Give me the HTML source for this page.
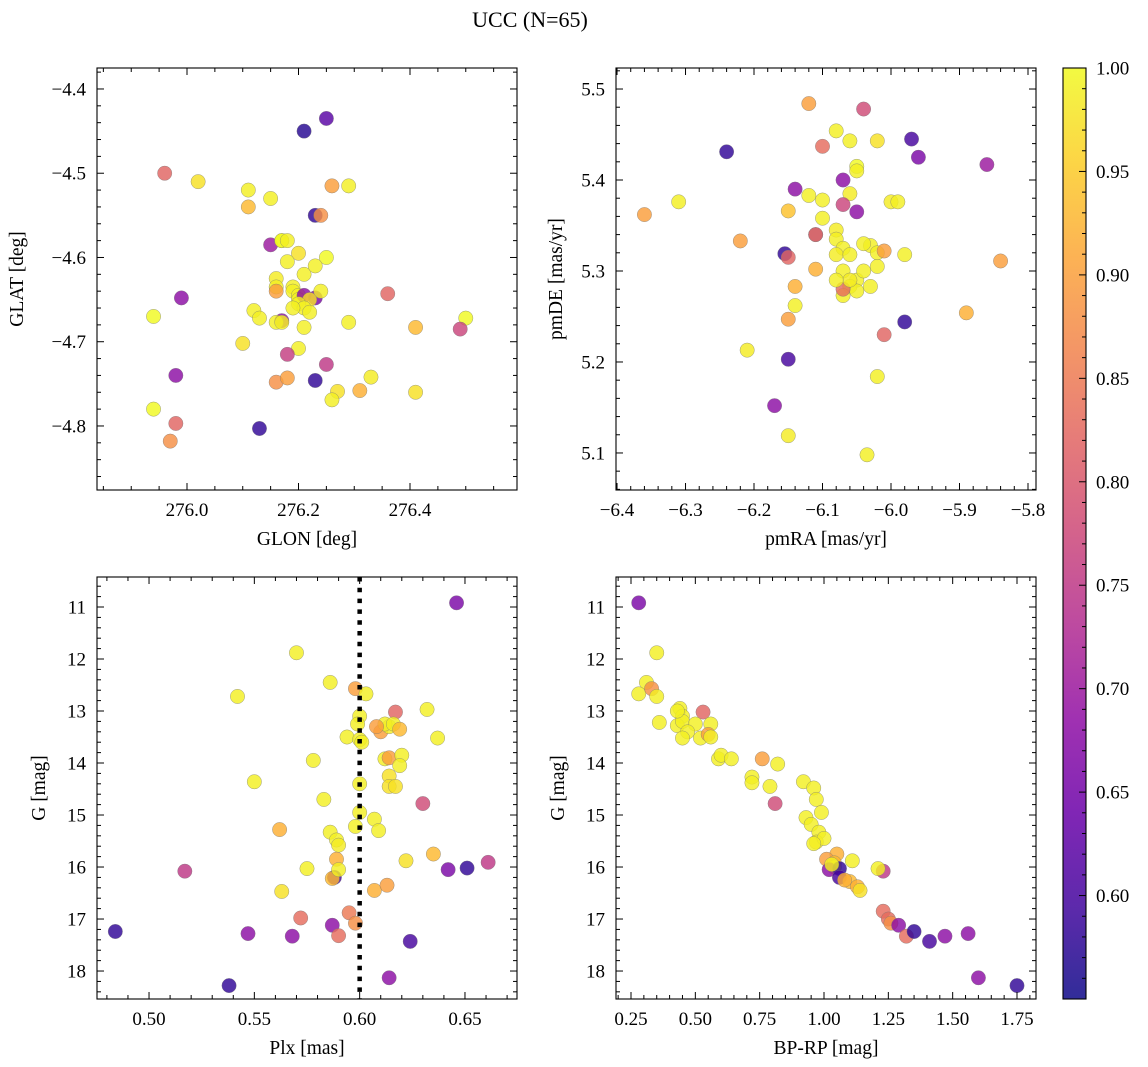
<!DOCTYPE html>
<html><head><meta charset="utf-8"><title>UCC (N=65)</title>
<style>
html,body{margin:0;padding:0;background:#fff;}
svg{display:block;font-family:"Liberation Serif","DejaVu Serif",serif;}
</style></head>
<body>
<svg id="fig" width="1148" height="1067" viewBox="0 0 1148 1067" xmlns="http://www.w3.org/2000/svg">
<defs>
<linearGradient id="plasma" x1="0" y1="1" x2="0" y2="0">
<stop offset="0" stop-color="#0d0887"/><stop offset="0.1" stop-color="#41049d"/><stop offset="0.2" stop-color="#6a00a8"/><stop offset="0.3" stop-color="#8f0da4"/><stop offset="0.4" stop-color="#b12a90"/><stop offset="0.5" stop-color="#cc4778"/><stop offset="0.6" stop-color="#e16462"/><stop offset="0.7" stop-color="#f2844b"/><stop offset="0.8" stop-color="#fca636"/><stop offset="0.9" stop-color="#fcce25"/><stop offset="1" stop-color="#f0f921"/>
</linearGradient>
</defs>
<text x="530" y="27" font-size="22" text-anchor="middle">UCC (N=65)</text>
</svg>
<script>
// ---- data: panel 1 (GLON / GLAT) ----
const p1Lon=[276.21,276.25,275.96,276.02,276.11,276.11,276.15,276.26,276.29,276.23,276.24,276.15,276.17,276.17,276.20,276.18,276.25,276.21,276.23,276.16,276.16,276.16,276.19,276.19,276.20,276.20,276.21,276.23,276.22,276.24,275.99,276.36,275.94,276.50,276.12,276.13,276.17,276.16,276.17,276.21,276.29,276.41,276.49,276.10,276.20,276.18,276.25,275.98,276.16,276.18,276.23,276.31,276.27,276.33,276.26,276.41,275.94,275.98,275.97,276.13,276.20,276.21,276.22,276.19,276.18];
const p1Lat=[-4.45,-4.435,-4.50,-4.51,-4.52,-4.54,-4.53,-4.515,-4.515,-4.55,-4.55,-4.585,-4.58,-4.58,-4.595,-4.605,-4.60,-4.62,-4.61,-4.625,-4.635,-4.64,-4.635,-4.64,-4.645,-4.65,-4.645,-4.648,-4.65,-4.64,-4.648,-4.643,-4.67,-4.672,-4.663,-4.672,-4.675,-4.677,-4.677,-4.683,-4.677,-4.683,-4.685,-4.702,-4.708,-4.715,-4.727,-4.74,-4.748,-4.743,-4.746,-4.758,-4.759,-4.742,-4.769,-4.76,-4.78,-4.797,-4.818,-4.803,-4.655,-4.66,-4.665,-4.66,-4.58];
const p1Prob=[0.57,0.62,0.82,0.975,0.99,0.93,0.99,0.9,0.99,0.58,0.88,0.7,1.0,1.0,0.975,0.99,1.0,0.99,0.99,0.985,0.99,0.9,0.99,0.99,0.99,0.99,0.68,0.66,0.975,0.99,0.68,0.82,1.0,1.0,0.99,0.99,0.68,0.99,0.99,0.99,0.99,0.93,0.77,0.975,0.99,0.76,0.75,0.68,0.88,0.9,0.58,0.92,0.975,0.985,0.99,0.975,1.0,0.82,0.88,0.58,0.99,0.99,0.99,0.99,0.99];
// ---- data: panel 2 (pmRA / pmDE) ----
const p2PmRA=[-6.12,-6.04,-6.08,-6.06,-6.02,-5.97,-5.96,-5.86,-6.24,-6.10,-6.05,-6.05,-6.07,-6.14,-6.12,-6.10,-6.06,-6.00,-5.99,-6.31,-6.36,-6.15,-6.07,-6.05,-6.10,-6.11,-6.11,-6.08,-6.08,-6.07,-6.03,-6.02,-6.04,-6.01,-5.98,-6.22,-6.155,-6.15,-6.08,-6.06,-6.02,-5.84,-6.11,-6.07,-6.14,-6.05,-6.03,-6.06,-6.05,-6.07,-6.07,-6.14,-6.15,-5.98,-5.89,-6.01,-6.21,-6.15,-6.02,-6.17,-6.15,-6.035,-6.06,-6.04,-6.08];
const p2PmDE=[5.484,5.478,5.454,5.443,5.443,5.445,5.425,5.417,5.431,5.437,5.415,5.41,5.40,5.39,5.383,5.378,5.385,5.376,5.376,5.376,5.362,5.366,5.373,5.365,5.358,5.34,5.34,5.345,5.335,5.325,5.328,5.32,5.33,5.322,5.318,5.333,5.319,5.315,5.318,5.318,5.305,5.311,5.302,5.30,5.283,5.29,5.283,5.283,5.278,5.273,5.28,5.262,5.247,5.244,5.254,5.23,5.213,5.203,5.184,5.152,5.119,5.098,5.29,5.30,5.29];
const p2Prob=[0.9,0.78,0.99,0.99,0.975,0.6,0.66,0.7,0.58,0.83,1.0,0.99,0.68,0.68,0.99,0.99,0.985,0.985,0.99,0.99,0.9,0.94,0.77,0.68,0.99,0.99,0.78,0.985,0.99,0.99,0.99,0.99,0.99,0.9,0.99,0.9,0.58,0.82,0.985,0.99,0.99,0.9,0.92,0.99,0.92,0.99,0.99,0.99,0.99,0.99,0.83,0.99,0.9,0.58,0.92,0.82,0.985,0.6,0.99,0.68,0.985,0.99,0.985,0.99,0.99];
// ---- data: panel 3 (Plx / G) ----
const p3Plx=[0.646,0.570,0.542,0.586,0.598,0.603,0.600,0.599,0.617,0.632,0.610,0.614,0.612,0.616,0.619,0.594,0.600,0.637,0.578,0.612,0.614,0.620,0.619,0.550,0.614,0.614,0.617,0.600,0.583,0.630,0.600,0.607,0.609,0.598,0.562,0.586,0.589,0.590,0.635,0.622,0.661,0.589,0.651,0.642,0.517,0.575,0.588,0.587,0.563,0.607,0.613,0.595,0.572,0.598,0.587,0.590,0.484,0.547,0.568,0.624,0.614,0.538,0.601,0.608,0.590];
const p3G=[10.92,11.88,12.72,12.45,12.57,12.67,13.1,13.25,13.02,12.97,13.4,13.3,13.25,13.25,13.35,13.5,13.55,13.52,13.95,13.92,13.9,13.85,14.05,14.36,14.25,14.45,14.45,14.4,14.7,14.78,14.95,15.08,15.3,15.22,15.28,15.33,15.48,15.58,15.75,15.88,15.91,15.85,16.02,16.05,16.08,16.03,16.2,16.22,16.47,16.45,16.35,16.88,16.98,17.08,17.12,17.32,17.24,17.28,17.33,17.43,18.13,18.28,13.6,13.3,16.05];
const p3Prob=[0.66,0.99,0.99,0.99,0.9,0.99,0.99,0.99,0.82,0.99,0.9,0.99,0.99,0.99,0.93,0.99,0.99,0.99,0.99,0.99,0.9,0.99,0.99,0.99,0.975,0.975,0.975,0.99,0.99,0.78,0.99,0.99,0.99,0.99,0.92,0.99,0.99,0.985,0.93,0.975,0.75,0.92,0.58,0.66,0.75,0.99,0.6,0.93,0.975,0.92,0.9,0.85,0.83,0.88,0.68,0.83,0.58,0.68,0.68,0.6,0.68,0.58,0.99,0.9,0.99];
// ---- data: panel 4 (BP-RP / G) ----
const p4BpRp=[0.28,0.35,0.31,0.28,0.33,0.35,0.36,0.53,0.44,0.45,0.43,0.45,0.50,0.47,0.45,0.52,0.56,0.55,0.56,0.59,0.60,0.64,0.76,0.82,0.72,0.72,0.79,0.81,0.92,0.96,0.97,0.99,0.93,0.95,0.98,0.97,1.00,1.05,1.11,1.01,1.04,1.04,1.02,1.06,1.06,1.23,1.21,1.10,1.13,1.14,1.23,1.25,1.26,1.29,1.32,1.35,1.41,1.47,1.56,1.60,1.75,0.43,0.96,1.03,1.08];
const p4G=[10.92,11.88,12.45,12.67,12.57,12.72,13.22,13.02,12.95,13.1,13.28,13.2,13.25,13.4,13.52,13.52,13.25,13.45,13.5,13.92,13.85,13.92,13.92,14.02,14.27,14.38,14.45,14.78,14.36,14.48,14.7,14.95,15.05,15.18,15.33,15.52,15.45,15.75,15.88,15.85,15.92,16.0,16.05,16.03,16.2,16.08,16.03,16.28,16.38,16.45,16.85,17.0,17.08,17.12,17.33,17.24,17.43,17.33,17.28,18.13,18.28,13.0,15.55,15.95,16.25];
const p4Prob=[0.66,0.99,0.99,0.99,0.88,0.99,0.99,0.82,0.99,0.99,0.99,0.99,0.99,0.99,0.99,0.99,0.99,0.9,0.99,0.99,0.99,0.99,0.9,0.99,0.99,0.99,0.99,0.78,0.99,0.99,0.99,0.99,0.99,0.99,0.99,0.985,0.99,0.92,0.99,0.9,0.93,0.99,0.68,0.58,0.6,0.75,0.99,0.93,0.92,0.975,0.83,0.83,0.88,0.68,0.83,0.58,0.6,0.68,0.68,0.68,0.58,0.99,0.99,0.99,0.92];
// ---- tick labels ----
const p1XTicks=[276.0,276.2,276.4];
const p1YTicks=[-4.4,-4.5,-4.6,-4.7,-4.8];
const p2XTicks=[-6.4,-6.3,-6.2,-6.1,-6.0,-5.9,-5.8];
const p2YTicks=[5.1,5.2,5.3,5.4,5.5];
const p3XTicks=[0.50,0.55,0.60,0.65];
const gTicks=[11,12,13,14,15,16,17,18];
const p4XTicks=[0.25,0.50,0.75,1.00,1.25,1.50,1.75];
const cbTicks=[0.60,0.65,0.70,0.75,0.80,0.85,0.90,0.95,1.00];
const plxRef=[0.60];

const NS='http://www.w3.org/2000/svg';
const svg=document.getElementById('fig');
const VMIN=0.55,VMAX=1.0;
const TF=19, LF=19.5;
const stops=[[13,8,135],[65,4,157],[106,0,168],[143,13,164],[177,42,144],[204,71,120],[225,100,98],[242,132,75],[252,166,54],[252,206,37],[240,249,33]];
function cmap(v){let t=(v-VMIN)/(VMAX-VMIN);t=Math.max(0,Math.min(1,t))*10;const i=Math.min(9,Math.floor(t)),f=t-i;const a=stops[i],b=stops[i+1];return 'rgb('+a.map((c,k)=>Math.round(c+(b[k]-c)*f)).join(',')+')';}
function mk(tag,at,parent){const e=document.createElementNS(NS,tag);for(const k in at)e.setAttribute(k,at[k]);(parent||svg).appendChild(e);return e;}
const minus=s=>s.replace('-','\u2212');

function panel(cfg){
  const g=mk('g',{});
  
  
  const {x0,x1,y0,y1}=cfg.box;
  const sx=v=>x0+(v-cfg.xr[0])/(cfg.xr[1]-cfg.xr[0])*(x1-x0);
  const sy=v=>cfg.yinv? y0+(v-cfg.yr[0])/(cfg.yr[1]-cfg.yr[0])*(y1-y0) : y1-(v-cfg.yr[0])/(cfg.yr[1]-cfg.yr[0])*(y1-y0);
  const pts=mk('g',{},g);
  
  
  for(let i=0;i<cfg.xs.length;i++){
    const c=mk('circle',{cx:sx(cfg.xs[i]),cy:sy(cfg.ys[i]),r:7.2,fill:cmap(cfg.cs[i]),'fill-opacity':0.82,stroke:'#777','stroke-width':0.5,'stroke-opacity':0.7},pts);
    
    
  }
  if(cfg.vline){for(const v of cfg.vline){const l=mk('line',{x1:sx(v),x2:sx(v),y1:y0,y2:y1,stroke:'#000','stroke-width':4.5,'stroke-dasharray':'4.5 6.3'},g);
    
    }}
  const fr=mk('rect',{x:x0,y:y0,width:x1-x0,height:y1-y0,fill:'none',stroke:'#000','stroke-width':1.1},g);
  
  
  const tk=mk('g',{stroke:'#000','stroke-width':1},g);
  
  
  const eps=1e-9;
  const xs0=Math.ceil(cfg.xr[0]/cfg.xminor-eps);
  for(let k=xs0;k*cfg.xminor<=cfg.xr[1]+eps;k++){const v=k*cfg.xminor;const maj=Math.abs(v/cfg.xmajor-Math.round(v/cfg.xmajor))<1e-6;const L=maj?7:4;const X=sx(v);
    mk('line',{x1:X,x2:X,y1:y1,y2:y1-L},tk);mk('line',{x1:X,x2:X,y1:y0,y2:y0+L},tk);}
  const lo=Math.min(cfg.yr[0],cfg.yr[1]),hi=Math.max(cfg.yr[0],cfg.yr[1]);
  for(let k=Math.ceil(lo/cfg.yminor-eps);k*cfg.yminor<=hi+eps;k++){const v=k*cfg.yminor;const maj=Math.abs(v/cfg.ymajor-Math.round(v/cfg.ymajor))<1e-6;const L=maj?7:4;const Y=sy(v);
    mk('line',{x1:x0,x2:x0+L,y1:Y,y2:Y},tk);mk('line',{x1:x1,x2:x1-L,y1:Y,y2:Y},tk);}
  for(const v of cfg.xt){const t=mk('text',{x:sx(v),y:y1+26,'font-size':TF,'text-anchor':'middle'},g);t.textContent=minus(v.toFixed(cfg.xdec));
    
    }
  for(const v of cfg.yt){const t=mk('text',{x:x0-11,y:sy(v)+6.5,'font-size':TF,'text-anchor':'end'},g);t.textContent=minus(v.toFixed(cfg.ydec));
    
    }
  const xl=mk('text',{x:(x0+x1)/2,y:y1+55,'font-size':LF,'text-anchor':'middle'},g);xl.textContent=cfg.xlab;
  
  
  const ylx=cfg.ylabx,yly=(y0+y1)/2;
  const yl=mk('text',{x:ylx,y:yly,'font-size':LF,'text-anchor':'middle',transform:'rotate(-90 '+ylx+' '+yly+')'},g);yl.textContent=cfg.ylab;
  
  
}

panel({name:'panel-glon-glat',box:{x0:97,x1:517,y0:68,y1:490},xr:[275.8386,276.5919],yr:[-4.8760,-4.3751],xs:p1Lon,ys:p1Lat,cs:p1Prob,xmajor:0.2,xminor:0.05,ymajor:0.1,yminor:0.02,xt:p1XTicks,yt:p1YTicks,xdec:1,ydec:1,xlab:'GLON [deg]',ylab:'GLAT [deg]',ylabx:23});
panel({name:'panel-pmra-pmde',box:{x0:616,x1:1036,y0:68,y1:490},xr:[-6.4015,-5.7883],yr:[5.0593,5.5231],xs:p2PmRA,ys:p2PmDE,cs:p2Prob,xmajor:0.1,xminor:0.02,ymajor:0.1,yminor:0.02,xt:p2XTicks,yt:p2YTicks,xdec:1,ydec:1,xlab:'pmRA [mas/yr]',ylab:'pmDE [mas/yr]',ylabx:562});
panel({name:'panel-plx-g',box:{x0:97,x1:517,y0:577,y1:999},xr:[0.4753,0.6747],yr:[10.423,18.538],yinv:true,xs:p3Plx,ys:p3G,cs:p3Prob,xmajor:0.05,xminor:0.01,ymajor:1,yminor:0.2,xt:p3XTicks,yt:gTicks,xdec:2,ydec:0,xlab:'Plx [mas]',ylab:'G [mag]',ylabx:45,vline:plxRef});
panel({name:'panel-bprp-g',box:{x0:616,x1:1036,y0:577,y1:999},xr:[0.1917,1.8238],yr:[10.423,18.538],yinv:true,xs:p4BpRp,ys:p4G,cs:p4Prob,xmajor:0.25,xminor:0.05,ymajor:1,yminor:0.2,xt:p4XTicks,yt:gTicks,xdec:2,ydec:0,xlab:'BP-RP [mag]',ylab:'G [mag]',ylabx:564});

(function(){
  const g=mk('g',{});
  
  
  const X0=1063,X1=1086,Y0=68,Y1=999;
  const r=mk('rect',{x:X0,y:Y0,width:X1-X0,height:Y1-Y0,fill:'url(#plasma)','fill-opacity':0.85,stroke:'#000','stroke-width':1.1},g);
  
  
  const sy=v=>Y1-(v-VMIN)/(VMAX-VMIN)*(Y1-Y0);
  for(let k=56;k<=100;k++){const v=k/100;const maj=k%5===0;const Y=sy(v);mk('line',{x1:X1,x2:X1-(maj?7:4),y1:Y,y2:Y,stroke:'#000','stroke-width':1},g);}
  for(const v of cbTicks){const t=mk('text',{x:X1+10,y:sy(v)+6.5,'font-size':TF},g);t.textContent=v.toFixed(2);
    
    }
})();
</script>
</body></html>
